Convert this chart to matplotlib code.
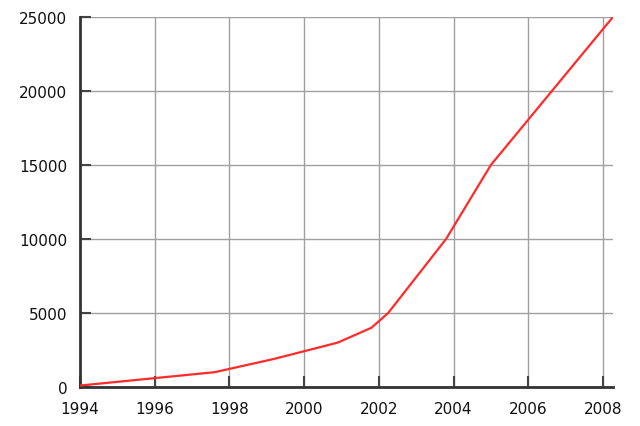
import matplotlib
matplotlib.use('Agg')
import matplotlib.pyplot as plt

# data
years = [1994.0, 1997.6, 1999.2, 2000.9, 2001.8, 2002.25, 2003.8, 2005.0, 2008.27]
values = [100, 1000, 1900, 3000, 4000, 5000, 10000, 15000, 25000]
xticks = [1994, 1996, 1998, 2000, 2002, 2004, 2006, 2008]
yticks = [0, 5000, 10000, 15000, 20000, 25000]

fig = plt.figure(figsize=(6.4, 4.27), dpi=100)
ax = fig.add_axes([0.125, 0.0913, 0.833, 0.867])

ax.plot(years, values, color='#ff2a2a', linewidth=1.6, zorder=3)

ax.set_xlim(1994, 2008.27)
ax.set_ylim(0, 25000)
ax.set_xticks(xticks)
ax.set_yticks(yticks)
ax.grid(True, color='#a0a0a0', linewidth=1.0)
ax.set_axisbelow(True)

for s in ['top', 'right']:
    ax.spines[s].set_visible(False)
for s in ['left', 'bottom']:
    ax.spines[s].set_color('#333333')
    ax.spines[s].set_linewidth(2)

ax.tick_params(direction='in', length=8, width=1.5, color='#444444',
               labelsize=11, labelcolor='#111111')
ax.tick_params(axis='y', pad=9)
ax.tick_params(axis='x', pad=10)

fig.savefig('out.png', dpi=100)
